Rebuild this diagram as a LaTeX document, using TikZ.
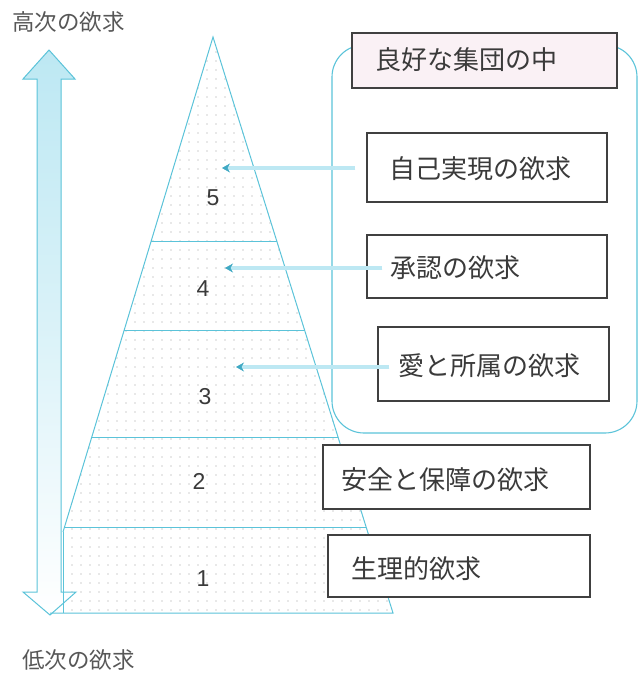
\documentclass[tikz,border=0pt]{standalone}
\usepackage{fontspec}
\setmainfont{Liberation Sans}
\newfontfamily\jp{Noto Sans CJK JP}
\usetikzlibrary{patterns.meta,arrows.meta}
\definecolor{cy}{HTML}{5BC3D9}
\definecolor{cyd}{HTML}{3FA9C4}
\definecolor{cyl}{HTML}{BDE8F3}
\definecolor{txt}{HTML}{3A3A3A}
\definecolor{pinkish}{HTML}{FAF1F5}
\begin{document}
\begin{tikzpicture}[x=1pt,y=-1pt,
  box/.style={draw=gray!50!black, line width=1.2pt, fill=white, rectangle, inner sep=0pt},
  lbl/.style={font=\jp\fontsize{26}{26}\selectfont, text=txt, inner sep=0pt, anchor=west},
  side/.style={font=\jp\fontsize{22.5}{22.5}\selectfont, text=txt!85, inner sep=0pt, anchor=west},
  num/.style={font=\fontsize{23}{23}\selectfont, text=txt, inner sep=0pt},
  lvl/.style={draw=cy, line width=0.9pt},
  ptr/.style={draw=cyd, double=cyl, double distance=3.2pt, line width=0.7pt, -{Stealth[length=8pt,width=9pt]}},
]
\useasboundingbox (0,0) rectangle (642,673);

% big rounded group frame
\draw[cy, line width=1.1pt, rounded corners=32pt] (332,45) rectangle (637,433);

% pyramid
\coordinate (apex) at (213,37);
\coordinate (lb) at (63,532);
\coordinate (lbb) at (63,613);
\coordinate (rb) at (393,613);
\fill[white] (apex) -- (rb) -- (lbb) -- (lb) -- cycle;
\fill[pattern={Dots[distance=9pt, radius=0.7pt]}, pattern color=gray!75] (apex) -- (rb) -- (lbb) -- (lb) -- cycle;

% double arrow (high / low)
\path[draw=cy, line width=1pt, top color=cyl, bottom color=white, middle color=cyl!55]
  (49,50) -- (75,79) -- (61,79) -- (61,592) -- (76,592) -- (50,615) -- (23,592)
  -- (37,592) -- (37,79) -- (23,79) -- cycle;

% pyramid outline
\draw[cy, line width=1pt] (lb) -- (apex) -- (rb) -- (50,613);
\draw[cy, line width=1pt] (lb) -- (lbb);

% level separators
\draw[lvl] (151,241) -- (277,241);
\draw[lvl] (124,330) -- (305,330);
\draw[lvl] (92,437) -- (338,437);
\draw[lvl] (65,527) -- (366,527);

% level numbers
\node[num] (n5) at (213,198) {5};
\node[num] (n4) at (203,289) {4};
\node[num] (n3) at (205,397) {3};
\node[num] (n2) at (199,481) {2};
\node[num] (n1) at (203,579) {1};

% group label
\node[box, fill=pinkish, minimum width=265pt, minimum height=55pt] (gbox) at (484.5,60.5) {};
\node[lbl] (gtxt) at (375,60) {良好な集団の中};

% need boxes
\node[box, minimum width=240pt, minimum height=69pt] (b5) at (487,167.5) {};
\node[box, minimum width=240pt, minimum height=63pt] (b4) at (487,266.5) {};
\node[box, minimum width=231pt, minimum height=74pt] (b3) at (493.5,364) {};
\node[box, minimum width=267pt, minimum height=64pt] (b2) at (456.5,477) {};
\node[box, minimum width=262pt, minimum height=62pt] (b1) at (459,566) {};

\node[lbl] (t5) at (389,169) {自己実現の欲求};
\node[lbl] (t4) at (390,268) {承認の欲求};
\node[lbl] (t3) at (398,366) {愛と所属の欲求};
\node[lbl] (t2) at (341,480) {安全と保障の欲求};
\node[lbl] (t1) at (351,569) {生理的欲求};

% pointer arrows
\coordinate (s5) at (355,168);
\coordinate (e5) at (222,168);
\coordinate (s4) at (382,268);
\coordinate (e4) at (225,268);
\coordinate (s3) at (389,367);
\coordinate (e3) at (236,367);
\fill[white] (368,262) rectangle (386,274);
\fill[white] (379,361) rectangle (393,373);
\draw[ptr] (s5) -- (e5);
\draw[ptr] (s4) -- (e4);
\draw[ptr] (s3) -- (e3);

% side labels
\node[side] (hi) at (12,22) {高次の欲求};
\node[side] (lo) at (22,660) {低次の欲求};
\end{tikzpicture}
\end{document}
